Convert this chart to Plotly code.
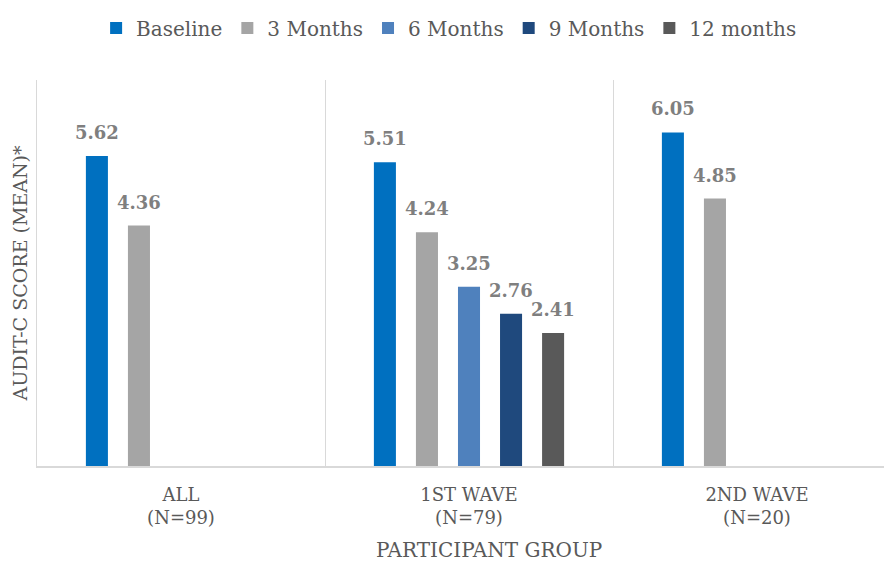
import plotly.graph_objects as go

categories = ["ALL<br>(N=99)", "1ST WAVE<br>(N=79)", "2ND WAVE<br>(N=20)"]
series_names = ["Baseline", "3 Months", "6 Months", "9 Months", "12 months"]
baseline = [5.62, 5.51, 6.05]
months3 = [4.36, 4.24, 4.85]
months6 = [None, 3.25, None]
months9 = [None, 2.76, None]
months12 = [None, 2.41, None]
series_values = [baseline, months3, months6, months9, months12]
colors = ["#0070C0", "#A5A5A5", "#4F81BD", "#1F497D", "#595959"]

BARGAP = 0.27
BARGROUPGAP = 0.476
FONT = "DejaVu Serif"

fig = go.Figure()
for name, vals, col in zip(series_names, series_values, colors):
    fig.add_trace(go.Bar(x=categories, y=vals, name=name, marker_color=col,
                         marker_line_width=0))

# data labels above bars, positioned via the grouped-bar layout
n = len(series_names)
slot = (1 - BARGAP) / n
annotations = []
for i, vals in enumerate(series_values):
    for ci, v in enumerate(vals):
        if v is None:
            continue
        xc = ci - (1 - BARGAP) / 2 + slot * (i + 0.5)
        annotations.append(dict(x=xc, y=v, xref="x", yref="y", text=f"{v:.2f}",
                                showarrow=False, yanchor="bottom", yshift=11,
                                font=dict(family=FONT, size=18, color="#7F7F7F",
                                          weight="bold")))

annotations.append(dict(text="PARTICIPANT GROUP", xref="paper", yref="paper",
                        x=0.529, y=-0.218, xanchor="center", yanchor="middle",
                        showarrow=False, font=dict(family=FONT, size=20, color="#595959")))
annotations.append(dict(text="AUDIT-C SCORE (MEAN)*", xref="paper", yref="paper",
                        x=-0.0193, y=0.5, xanchor="center", yanchor="middle", textangle=-90,
                        borderpad=0, showarrow=False,
                        font=dict(family=FONT, size=19, color="#595959")))

fig.update_layout(
    width=884, height=564,
    paper_bgcolor="white", plot_bgcolor="white",
    margin=dict(l=29, r=0, t=65, b=106),
    barmode="group", bargap=BARGAP, bargroupgap=BARGROUPGAP,
    font=dict(family=FONT, color="#595959"),
    showlegend=True,
    legend=dict(orientation="h", x=0.482, xanchor="center", y=1.135, yanchor="middle",
                font=dict(family=FONT, size=20, color="#595959"), itemclick=False),
    annotations=annotations,
)
fig.update_xaxes(range=[-0.5, -0.5 + 855 / 288], tickson="boundaries", showgrid=True,
                 gridcolor="#D9D9D9", gridwidth=1, showline=True, linecolor="#D9D9D9",
                 linewidth=2, ticks="", ticklabelstandoff=11,
                 tickfont=dict(family=FONT, size=18, color="#595959"))
fig.update_yaxes(range=[0, 7], showgrid=False, zeroline=False, showticklabels=False,
                 showline=True, linecolor="#D9D9D9", linewidth=1, ticks="")

fig.write_html("out.html")
